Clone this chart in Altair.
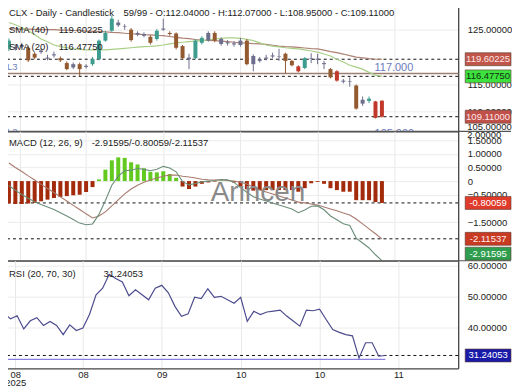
import altair as alt
import pandas as pd

# ---------------- data ----------------
idx = list(range(59))
opens = [121.5, 121.8, 122.2, 121.7, 120.6, 121.2, 119.9, 120.5, 119.8, 118.9,
         118.1, 118.7, 118.4, 118.7, 119.6, 123.0, 124.8, 126.3, 125.6, 125.0,
         124.4, 124.2, 123.7, 123.3, 125.2, 124.4, 124.3, 122.0, 119.6, 119.8,
         122.6, 123.0, 124.4, 123.3, 122.7, 122.5, 122.2, 123.0, 118.7, 119.6,
         119.9, 120.3, 120.1, 120.6, 119.3, 118.3, 118.0, 119.8, 119.7, 118.9,
         117.8, 117.4, 115.7, 115.6, 114.8, 111.5, 112.0, 111.9, 112.04]
highs = [123.4, 122.3, 122.6, 122.1, 120.9, 121.6, 120.4, 121.0, 120.1, 119.2,
         119.0, 119.0, 118.7, 120.0, 123.2, 124.8, 127.6, 126.8, 126.0, 125.3,
         124.7, 124.5, 124.0, 125.1, 127.0, 124.7, 124.5, 122.2, 120.6, 123.3,
         123.8, 124.7, 124.7, 123.6, 123.1, 122.9, 123.5, 123.3, 120.5, 120.0,
         120.4, 120.8, 121.5, 120.8, 119.5, 118.5, 120.0, 120.7, 120.6, 119.3,
         118.0, 117.6, 116.0, 116.3, 115.0, 112.8, 112.8, 112.0, 112.07]
lows = [121.1, 121.2, 121.6, 119.1, 119.6, 120.6, 119.4, 119.9, 119.1, 117.6,
        117.8, 116.5, 117.9, 118.4, 119.4, 122.8, 124.6, 125.5, 125.0, 122.8,
        123.8, 123.6, 122.3, 123.0, 124.8, 123.9, 121.4, 119.5, 117.8, 119.6,
        122.3, 122.8, 122.7, 122.1, 122.1, 121.9, 121.9, 118.5, 117.4, 119.0,
        119.4, 119.8, 119.3, 117.0, 118.3, 117.2, 117.8, 118.9, 118.7, 117.8,
        116.1, 115.5, 115.2, 114.6, 110.4, 111.1, 111.6, 108.8, 108.95]
closes = [123.0, 121.6, 121.9, 119.4, 119.9, 120.9, 119.7, 120.3, 119.4, 117.8,
          118.7, 117.8, 118.2, 119.6, 123.0, 124.4, 127.0, 125.8, 125.5, 123.1,
          124.1, 123.9, 122.6, 124.8, 125.0, 124.2, 121.7, 119.8, 119.9, 123.0,
          123.5, 124.4, 123.0, 122.4, 122.5, 122.3, 123.0, 118.7, 120.2, 119.3,
          119.7, 120.1, 120.0, 119.3, 118.5, 117.4, 119.8, 119.7, 119.5, 118.7,
          116.3, 115.7, 115.5, 115.5, 110.6, 112.2, 112.4, 108.9, 109.11]
kinds = ["up", "doji", "doji", "down", "down", "doji", "doji", "doji", "down", "down",
         "doji", "down", "doji", "up", "up", "up", "up", "doji", "doji", "down",
         "doji", "doji", "down", "up", "doji", "down", "down", "down", "doji", "up",
         "up", "doji", "down", "doji", "doji", "doji", "doji", "down", "doji", "doji",
         "doji", "doji", "doji", "down", "down", "red", "up", "doji", "doji", "doji",
         "down", "red", "doji", "doji", "down", "doji", "up", "red", "red"]
sma40 = [125.2, 125.15, 125.1, 125.1, 125.05, 125.0, 125.0, 125.0, 124.9, 124.9,
         124.85, 124.8, 124.75, 124.7, 124.65, 124.6, 124.5, 124.45, 124.35, 124.25,
         124.2, 124.1, 124.05, 123.95, 123.9, 123.75, 123.6, 123.45, 123.35, 123.2,
         123.1, 123.05, 123.0, 122.9, 122.8, 122.7, 122.6, 122.55, 122.45, 122.4,
         122.3, 122.15, 122.0, 121.9, 121.85, 121.75, 121.65, 121.55, 121.5, 121.25,
         121.0, 120.8, 120.55, 120.25, 120.0, 119.85, 119.7, 119.6, 119.60225]
sma20 = [126.3, 125.9, 125.4, 124.8, 124.1, 123.3, 122.8, 122.2, 121.9, 121.7,
         121.5, 121.4, 121.3, 121.3, 121.3, 121.3, 121.4, 121.5, 121.6, 121.7,
         121.8, 121.9, 121.95, 122.05, 122.2, 122.4, 122.6, 122.7, 122.8, 122.9,
         123.0, 123.15, 123.3, 123.4, 123.5, 123.5, 123.4, 123.25, 123.0, 122.6,
         122.2, 122.0, 121.85, 121.7, 121.6, 121.5, 121.3, 121.1, 120.9, 120.55,
         120.2, 119.6, 119.1, 118.5, 118.15, 117.8, 117.2, 116.7, 116.4775]
macd_line = [-0.16, -0.34, -0.49, -0.63, -0.76, -0.86, -0.95, -1.04, -1.16, -1.28,
             -1.41, -1.54, -1.60, -1.57, -1.22, -0.71, -0.15, 0.18, 0.38, 0.40,
             0.46, 0.43, 0.38, 0.43, 0.54, 0.48, 0.34, -0.02, -0.14, -0.09,
             -0.03, 0.00, 0.02, 0.06, 0.05, -0.05, -0.24, -0.41, -0.57, -0.66,
             -0.73, -0.80, -0.88, -0.95, -1.02, -1.16, -1.06, -0.92, -0.91, -1.05,
             -1.28, -1.42, -1.56, -1.63, -2.09, -2.27, -2.45, -2.70, -2.91595]
signal_line = [0.66, 0.50, 0.35, 0.19, 0.04, -0.12, -0.27, -0.42, -0.58, -0.73,
               -0.89, -1.04, -1.20, -1.35, -1.28, -1.13, -0.91, -0.69, -0.47, -0.29,
               -0.15, -0.04, 0.04, 0.11, 0.18, 0.22, 0.22, 0.18, 0.15, 0.11,
               0.07, 0.05, 0.04, 0.04, 0.02, 0.00, -0.04, -0.11, -0.22, -0.33,
               -0.40, -0.47, -0.55, -0.62, -0.69, -0.77, -0.80, -0.84, -0.88, -0.95,
               -1.02, -1.09, -1.17, -1.24, -1.39, -1.57, -1.75, -1.93, -2.11537]
hist = [-0.82, -0.84, -0.84, -0.82, -0.80, -0.74, -0.68, -0.62, -0.58, -0.55,
        -0.52, -0.50, -0.40, -0.22, 0.06, 0.42, 0.76, 0.87, 0.85, 0.69,
        0.61, 0.47, 0.34, 0.32, 0.36, 0.26, 0.12, -0.20, -0.29, -0.20,
        -0.10, -0.05, -0.02, 0.02, 0.03, -0.05, -0.20, -0.30, -0.35, -0.33,
        -0.33, -0.33, -0.33, -0.33, -0.33, -0.39, -0.26, -0.08, -0.03, -0.10,
        -0.26, -0.33, -0.39, -0.39, -0.70, -0.70, -0.70, -0.77, -0.80059]
rsi = [44.7, 42.9, 43.9, 39.7, 42.3, 43.3, 40.8, 42.1, 40.8, 37.9,
       41.0, 39.2, 40.0, 44.3, 50.6, 52.7, 57.1, 55.8, 54.7, 50.3,
       52.2, 50.6, 49.0, 52.7, 53.6, 51.2, 46.9, 43.7, 44.5, 49.8,
       49.4, 52.5, 49.8, 50.1, 49.0, 47.9, 49.8, 42.1, 45.3, 44.3,
       45.1, 45.4, 45.7, 43.8, 42.2, 40.6, 45.7, 45.5, 46.0, 42.7,
       39.5, 38.6, 37.9, 37.5, 30.4, 35.3, 35.3, 31.0, 31.24053]

tick_idx = [1.7, 12, 24, 36, 48, 60]
tick_lbl = ["08", "08", "09", "10", "10", "11"]
year_lbl = "2025"
price_ticks = [110, 115, 125]
macd_ticks = [1.5, 1.0, 0.5, 0, -0.5, -1.5]
rsi_ticks = [40, 50, 60]
edge_labels_main = ["105.00000"]
edge_labels_macd = ["2.00000"]

price_tags = [119.60225, 116.4775, 109.11]
price_tag_txt = ["119.60225", "116.47750", "109.11000"]
macd_tags = [-0.80059, -2.11537, -2.91595]
macd_tag_txt = ["-0.80059", "-2.11537", "-2.91595"]
rsi_tags = [31.24053]
rsi_tag_txt = ["31.24053"]
levels = [117.0, 105.0]
level_names = ["L3", "L2"]
level_txt = ["117.000", "105.000"]
rsi_low_level = [30]

head_main = "CLX - Daily - Candlestick"
head_ohlc = "59/99 - O:112.04000 - H:112.07000 - L:108.95000 - C:109.11000"
head_sma40 = ["SMA (40)", "119.60225"]
head_sma20 = ["SMA (20)", "116.47750"]
head_macd = ["MACD (12, 26, 9)", "-2.91595/-0.80059/-2.11537"]
head_rsi = ["RSI (20, 70, 30)", "31.24053"]
watermark = "Arincen"

# ---------------- styles ----------------
FONT = "Liberation Sans"
FS = 9.5
W = 459
H_MAIN, H_MACD, H_RSI = 131, 130, 108
X_DOMAIN = [-0.4545, 69.09]
kind_color = {"up": "#3e9d8f", "down": "#93592f", "red": "#c0392b", "doji": "#6d6d8c"}

df = pd.DataFrame({"i": idx, "o": opens, "h": highs, "l": lows, "c": closes,
                   "k": kinds, "s40": sma40, "s20": sma20, "m": macd_line,
                   "s": signal_line, "hist": hist, "rsi": rsi})

xscale = alt.Scale(domain=X_DOMAIN, nice=False, zero=False)

label_expr = ""
for v, t in zip(tick_idx, tick_lbl):
    lab = f"['{t}','{year_lbl}']" if v == tick_idx[0] else f"'{t}'"
    label_expr += f"datum.value == {v} ? {lab} : "
label_expr += "''"


def xaxis(labels):
    return alt.Axis(orient="bottom", values=tick_idx, grid=True, gridColor="#e8e8e8",
                    ticks=False, domain=True, domainColor="#444", domainWidth=1.2,
                    labels=labels, labelExpr=label_expr, labelFont=FONT,
                    labelFontSize=FS, labelColor="#222", labelPadding=1,
                    labelLineHeight=8.5, labelBaseline="top", title=None)


def X(labels=False, field="i:Q"):
    return alt.X(field, scale=xscale, axis=xaxis(labels))


def yaxis(values, expr=None):
    kw = dict(orient="right", values=values, grid=True, gridColor="#ececec",
              ticks=False, domain=True, domainColor="#333", domainWidth=1.2,
              labelPadding=9, labelFont=FONT, labelFontSize=FS, labelColor="#222",
              labelOverlap=False, title=None, format=".5f")
    if expr:
        kw["labelExpr"] = expr
    return alt.Axis(**kw)


price_scale = alt.Scale(domain=[106.45, 130.27], nice=False, zero=False)
macd_scale = alt.Scale(domain=[-2.92, 1.825], nice=False, zero=False)
rsi_scale = alt.Scale(domain=[27.14, 61.43], nice=False, zero=False)
price_axis = yaxis(price_ticks)
macd_axis = yaxis(macd_ticks, "datum.value == 0 ? '0' : format(datum.value, '.5f')")
rsi_axis = yaxis(rsi_ticks)


def Y(field, scale, axis):
    return alt.Y(field, scale=scale, axis=axis)


def one():
    return alt.Chart(pd.DataFrame({"a": [0]}))


def note(text, x, y, color="#222", size=FS, align="left"):
    return one().mark_text(text=text, x=x, y=y, align=align, baseline="middle",
                           font=FONT, fontSize=size, color=color)


def separator(y):
    return one().mark_rule(color="#555", strokeWidth=1.2).encode(
        x=alt.value(0), x2=alt.value(512), y=alt.value(y))


def dashed(values, scale, axis):
    return alt.Chart(pd.DataFrame({"v": values})).mark_rule(
        color="#111", strokeDash=[3, 3], strokeWidth=1).encode(y=Y("v:Q", scale, axis))


def tags(values, texts, bgs, fgs, scale, axis, shifts):
    out = []
    for v, t, bg, fg, sh in zip(values, texts, bgs, fgs, shifts):
        d = alt.Chart(pd.DataFrame({"v": [v], "t": [t]}))
        out.append(d.mark_rect(fill=bg, stroke="#5a3a30", strokeWidth=0.6,
                               yOffset=-6.5 + sh, y2Offset=6.5 + sh).encode(
            x=alt.value(466), x2=alt.value(512), y=Y("v:Q", scale, axis), y2="v:Q"))
        out.append(d.mark_text(x=489, dy=sh, align="center", baseline="middle",
                               font=FONT, fontSize=FS, color=fg).encode(
            y=Y("v:Q", scale, axis), text="t:N"))
    return out


base = alt.Chart(df)

# ---------------- main panel ----------------
main_layers = [dashed(price_tags, price_scale, price_axis)]
lv = alt.Chart(pd.DataFrame({"v": levels, "n": level_names, "t": level_txt}))
main_layers.append(lv.transform_filter("datum.v == 117").mark_rule(
    color="#9b7f74", strokeWidth=1.6).encode(y=Y("v:Q", price_scale, price_axis)))
main_layers.append(base.mark_line(color="#ad8274", strokeWidth=1.2).encode(
    x=X(), y=Y("s40:Q", price_scale, price_axis)))
main_layers.append(base.mark_line(color="#a9cf86", strokeWidth=1.2).encode(
    x=X(), y=Y("s20:Q", price_scale, price_axis)))
for k, col in kind_color.items():
    sub = base.transform_filter(f"datum.k == '{k}'")
    main_layers.append(sub.mark_rule(color=col, strokeWidth=1).encode(
        x=X(), y=Y("l:Q", price_scale, price_axis), y2="h:Q"))
    main_layers.append(sub.mark_bar(color=col, size=4).encode(
        x=X(), y=Y("o:Q", price_scale, price_axis), y2="c:Q"))
main_layers.append(lv.mark_text(x=6, dy=-4, align="left", baseline="alphabetic",
                                font=FONT, fontSize=FS, color="#6b7bbd", clip=True).encode(
    y=Y("v:Q", price_scale, price_axis), text="n:N"))
main_layers.append(lv.mark_text(x=375, dy=-2, align="left", baseline="alphabetic",
                                font=FONT, fontSize=11, color="#6b7bbd", clip=True).encode(
    y=Y("v:Q", price_scale, price_axis), text="t:N"))
main_layers.append(note(head_main, 8, 12))
main_layers.append(note(head_ohlc, 123, 12))
main_layers += [note(head_sma40[0], 8, 29), note(head_sma40[1], 58, 29)]
main_layers += [note(head_sma20[0], 8, 46), note(head_sma20[1], 58, 46)]
main_layers.append(note(edge_labels_main[0], 468, 127))
main_layers.append(separator(H_MAIN))
main_layers += tags(price_tags, price_tag_txt, ["#c0564a", "#3ee23e", "#c0504a"],
                    ["#ffe6e6", "#103010", "#ffe6e6"], price_scale, price_axis, [0, 0, 0])
main = alt.layer(*main_layers).properties(width=W, height=H_MAIN)

# ---------------- MACD panel ----------------
macd_layers = [dashed([macd_tags[0], macd_tags[1]], macd_scale, macd_axis)]
macd_layers.append(base.transform_filter("datum.hist < 0").mark_bar(color="#a32b0c", size=4).encode(
    x=X(), y=Y("hist:Q", macd_scale, macd_axis), y2=alt.datum(0)))
macd_layers.append(base.transform_filter("datum.hist >= 0").mark_bar(color="#62c91f", size=4).encode(
    x=X(), y=Y("hist:Q", macd_scale, macd_axis), y2=alt.datum(0)))
macd_layers.append(base.mark_line(color="#a87a6e", strokeWidth=1.1).encode(
    x=X(), y=Y("s:Q", macd_scale, macd_axis)))
macd_layers.append(base.mark_line(color="#6b8e7a", strokeWidth=1.1).encode(
    x=X(), y=Y("m:Q", macd_scale, macd_axis)))
macd_layers.append(note(watermark, 258, 62, color="#8a8a8a", size=28, align="center"))
macd_layers += [note(head_macd[0], 8, 12), note(head_macd[1], 91, 12)]
macd_layers.append(note(edge_labels_macd[0], 468, 4))
macd_layers.append(separator(H_MACD))
macd_layers += tags(macd_tags, macd_tag_txt, ["#e03a2a", "#c83a22", "#2e9e4e"],
                    ["#ffffff", "#ffeeee", "#ffffff"], macd_scale, macd_axis, [0, 0, -7])
macd = alt.layer(*macd_layers).properties(width=W, height=H_MACD)

# ---------------- RSI panel ----------------
rsi_layers = [dashed(rsi_tags, rsi_scale, rsi_axis)]
lowline = alt.Chart(pd.DataFrame({"v": rsi_low_level, "b": [X_DOMAIN[0]], "e": [idx[-1]]}))
rsi_layers.append(lowline.mark_rule(color="#8a80e0", strokeWidth=1.2).encode(
    x=X(True, "b:Q"), x2=alt.X2("e:Q"), y=Y("v:Q", rsi_scale, rsi_axis)))
rsi_layers.append(base.mark_line(color="#4c4c8e", strokeWidth=1.2).encode(
    x=X(True), y=Y("rsi:Q", rsi_scale, rsi_axis)))
rsi_layers += [note(head_rsi[0], 8, 13), note(head_rsi[1], 103, 13)]
rsi_layers += tags(rsi_tags, rsi_tag_txt, ["#1a1aa8"], ["#ffffff"], rsi_scale, rsi_axis, [0])
rsi_chart = alt.layer(*rsi_layers).properties(width=W, height=H_RSI)

chart = alt.vconcat(main, macd, rsi_chart, spacing=0, bounds="flush").properties(
    padding={"left": -8, "top": -8, "right": 0, "bottom": 8},
    background="#ffffff",
).configure_view(stroke=None)

chart.save("out.html", embed_options={"renderer": "svg", "actions": False})
